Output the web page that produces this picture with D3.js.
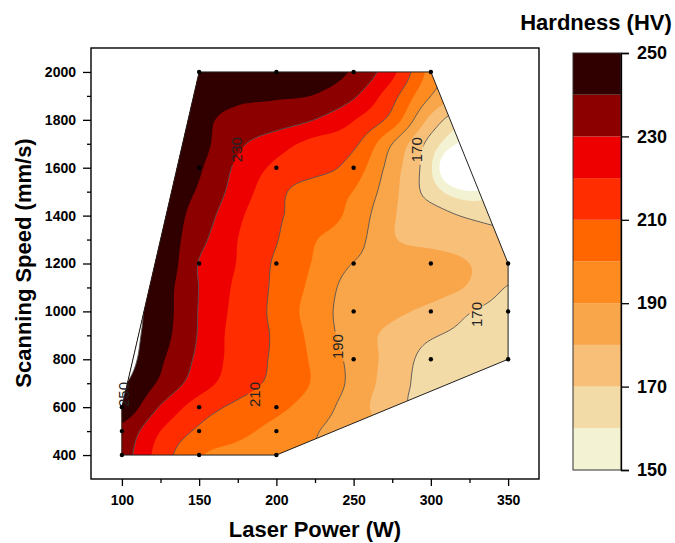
<!DOCTYPE html>
<html lang="en">
<head>
<meta charset="UTF-8" />
<title>Hardness contour map</title>
<script src="https://cdn.jsdelivr.net/npm/d3@7"></script>
<style>
	body { margin: 0; background: #fff; }
	text { font-family: "Liberation Sans", Arial, sans-serif; }
</style>
</head>
<body>
<script>
var w = 675;
var h = 543;

// hardness on a regular grid (rows follow speeds, columns follow powers)
var powers = [100, 125, 150, 175, 200, 225, 250, 275, 300, 325, 350];
var speeds = [400, 500, 600, 700, 800, 900, 1000, 1100, 1200, 1300, 1400, 1500, 1600, 1700, 1800, 1900, 2000];
var hardness = [
	[234, 215.5, 201, 197, 193, 190, 185, 180, 172, 166, 164],
	[237, 220, 208.2, 202.7, 196.8, 190.7, 185, 180, 172, 166, 164],
	[247, 229.1, 215.1, 207.8, 202.4, 195, 184.9, 173.6, 167, 164, 163],
	[251, 238.3, 224.7, 214.6, 207.3, 198.7, 187.3, 174.9, 166, 164, 163],
	[254, 241.5, 227.8, 216.1, 208.2, 198.1, 187, 176.3, 166.5, 164.5, 163.5],
	[254, 244, 229.2, 216, 208.5, 196.5, 185, 177.5, 171, 167.5, 165],
	[254, 245, 229.5, 217, 207.5, 195, 185.5, 182, 177.5, 170.5, 166],
	[252, 245, 229.8, 218, 208, 197, 186, 185, 184, 179, 169.5],
	[252, 248, 229.5, 219.5, 208.5, 199, 189.7, 186, 185, 180, 176],
	[252, 247, 233, 220, 210.5, 200.5, 194, 181, 177, 175, 173],
	[252, 246, 236, 222, 211.5, 205, 197, 181, 175, 168.5, 166],
	[252, 245, 239, 225.5, 213, 204, 199.7, 183, 165.5, 151, 158],
	[252, 245, 241, 228, 218, 214, 205.5, 185, 161, 108, 115],
	[252, 248, 243, 232, 224, 217, 212, 190, 166, 144, 138],
	[252, 250, 242, 238, 235, 229.8, 220.5, 206, 177, 160, 160],
	[252, 250, 243, 241.5, 241, 239.5, 231.3, 213.5, 190, 175, 168],
	[252, 250, 247, 248, 247, 245, 238.5, 222.5, 196.5, 180, 170]
];

// measured samples (black dots)
var samplePower = [100, 150, 200, 100, 150, 200, 100, 150, 200, 250, 300, 350, 250, 300, 350,
	150, 200, 250, 300, 350, 150, 200, 250, 150, 200, 250, 300];
var sampleSpeed = [400, 400, 400, 500, 500, 500, 600, 600, 600, 800, 800, 800, 1000, 1000, 1000,
	1200, 1200, 1200, 1200, 1200, 1600, 1600, 1600, 2000, 2000, 2000, 2000];

var levels = [150, 160, 170, 180, 190, 200, 210, 220, 230, 240, 250];
var bandColors = ["#f3f3d4", "#f3dba8", "#f7bf78", "#f9a54a", "#fd8b1f",
	"#ff6600", "#ff2d00", "#ee0000", "#8c0000", "#300000"];
var lineLevels = [170, 190, 210, 230, 250];
var labelText = ["230", "210", "190", "170", "170", "250"];
var labelPower = [174, 186, 239.5, 290.7, 329.5, 101.4];
var labelSpeed = [1675, 653, 853, 1675, 987, 653];

var xTicks = [100, 150, 200, 250, 300, 350];
var xMinor = [125, 175, 225, 275, 325];
var yTicks = [400, 600, 800, 1000, 1200, 1400, 1600, 1800, 2000];
var yMinor = [500, 700, 900, 1100, 1300, 1500, 1700, 1900];
var barTicks = [150, 170, 190, 210, 230, 250];

var x = d3.scaleLinear().domain([80, 370]).range([91, 539]);
var y = d3.scaleLinear().domain([300, 2100]).range([479, 48]);

var svg = d3.select("body").append("svg")
	.attr("width", w)
	.attr("height", h);

// Catmull-Rom interpolation of the read grid
function cubic(a, b, c, d, t) {
	return b + 0.5 * t * (c - a + t * (2 * a - 5 * b + 4 * c - d + t * (3 * (b - c) + d - a)));
}
function grid(i, j) {
	i = Math.max(0, Math.min(powers.length - 1, i));
	j = Math.max(0, Math.min(speeds.length - 1, j));
	return hardness[j][i];
}
function field(p, s) {
	var gx = (p - powers[0]) / (powers[1] - powers[0]);
	var gy = (s - speeds[0]) / (speeds[1] - speeds[0]);
	gx = Math.max(0, Math.min(powers.length - 1.0001, gx));
	gy = Math.max(0, Math.min(speeds.length - 1.0001, gy));
	var ix = Math.floor(gx), iy = Math.floor(gy);
	var tx = gx - ix, ty = gy - iy;
	var col = [];
	for (var m = -1; m <= 2; m++) {
		col.push(cubic(grid(ix - 1, iy + m), grid(ix, iy + m), grid(ix + 1, iy + m), grid(ix + 2, iy + m), tx));
	}
	return cubic(col[0], col[1], col[2], col[3], ty);
}

// fine sampling in pixel space
var gx0 = Math.floor(x(95)), gx1 = Math.ceil(x(355));
var gy0 = Math.floor(y(2050)), gy1 = Math.ceil(y(350));
var nx = gx1 - gx0 + 1, ny = gy1 - gy0 + 1;
var values = new Array(nx * ny);
for (var j = 0; j < ny; j++) {
	for (var i = 0; i < nx; i++) {
		values[j * nx + i] = field(x.invert(gx0 + i), y.invert(gy0 + j));
	}
}

var toPixels = d3.geoPath(d3.geoTransform({
	point: function (cx, cy) {
		this.stream.point(gx0 + cx - 0.5, gy0 + cy - 0.5);
	}
}));

var contours = d3.contours().size([nx, ny]).thresholds(levels)(values);

// convex hull of the samples
var hull = d3.polygonHull(samplePower.map(function (p, i) {
	return [x(p), y(sampleSpeed[i])];
}));

var defs = svg.append("defs");
defs.append("clipPath").attr("id", "hullClip")
	.append("path").attr("d", "M" + hull.join("L") + "Z");

var mask = defs.append("mask").attr("id", "labelMask")
	.attr("maskUnits", "userSpaceOnUse")
	.attr("x", 0).attr("y", 0).attr("width", w).attr("height", h);
mask.append("rect").attr("width", w).attr("height", h).attr("fill", "white");
mask.selectAll("rect.gap")
	.data(labelText)
	.enter()
	.append("rect")
	.attr("class", "gap")
	.attr("x", function (d, i) { return x(labelPower[i]) - 7; })
	.attr("y", function (d, i) { return y(labelSpeed[i]) - 15; })
	.attr("width", 14)
	.attr("height", 30)
	.attr("fill", "black");

var map = svg.append("g").attr("clip-path", "url(#hullClip)");

map.selectAll("path.band")
	.data(contours)
	.enter()
	.append("path")
	.attr("class", "band")
	.attr("d", toPixels)
	.attr("fill", function (d, i) {
		return i < bandColors.length ? bandColors[i] : "#ffffff";
	});

map.append("g")
	.attr("mask", "url(#labelMask)")
	.selectAll("path.line")
	.data(contours.filter(function (d) { return lineLevels.indexOf(d.value) >= 0; }))
	.enter()
	.append("path")
	.attr("class", "line")
	.attr("d", toPixels)
	.attr("fill", "none")
	.attr("stroke", "#555")
	.attr("stroke-width", 0.9);

svg.append("path")
	.attr("d", "M" + hull.join("L") + "Z")
	.attr("fill", "none")
	.attr("stroke", "#222")
	.attr("stroke-width", 1);

svg.selectAll("text.clabel")
	.data(labelText)
	.enter()
	.append("text")
	.attr("class", "clabel")
	.attr("transform", function (d, i) {
		return "translate(" + x(labelPower[i]) + "," + y(labelSpeed[i]) + ") rotate(-90)";
	})
	.attr("text-anchor", "middle")
	.attr("dy", "0.36em")
	.attr("font-size", "15px")
	.attr("fill", "#222")
	.text(function (d) { return d; });

svg.selectAll("circle")
	.data(samplePower)
	.enter()
	.append("circle")
	.attr("cx", function (d) { return x(d); })
	.attr("cy", function (d, i) { return y(sampleSpeed[i]); })
	.attr("r", 2.2)
	.attr("fill", "#000");

// axes
var xAxis = svg.append("g")
	.attr("transform", "translate(0,479)")
	.call(d3.axisBottom(x).tickValues(xTicks).tickSize(7).tickPadding(9).tickFormat(d3.format("d")));
svg.append("g")
	.attr("transform", "translate(0,479)")
	.call(d3.axisBottom(x).tickValues(xMinor).tickSize(4).tickFormat(""));
var yAxis = svg.append("g")
	.attr("transform", "translate(91,0)")
	.call(d3.axisLeft(y).tickValues(yTicks).tickSize(8).tickPadding(7).tickFormat(d3.format("d")));
svg.append("g")
	.attr("transform", "translate(91,0)")
	.call(d3.axisLeft(y).tickValues(yMinor).tickSize(4).tickFormat(""));

svg.selectAll(".domain").remove();
svg.selectAll(".tick line").attr("stroke", "#000").attr("stroke-width", 1.3);
xAxis.selectAll("text").attr("font-size", "14px").attr("font-weight", "bold")
	.attr("font-family", "'Liberation Sans', Arial, sans-serif").attr("fill", "#000");
yAxis.selectAll("text").attr("font-size", "14px").attr("font-weight", "bold")
	.attr("font-family", "'Liberation Sans', Arial, sans-serif").attr("fill", "#000");

svg.append("rect")
	.attr("x", 91).attr("y", 48)
	.attr("width", 448).attr("height", 431)
	.attr("fill", "none")
	.attr("stroke", "#000")
	.attr("stroke-width", 1.4);

svg.append("text")
	.attr("x", 315).attr("y", 537)
	.attr("text-anchor", "middle")
	.attr("font-size", "22px").attr("font-weight", "bold")
	.text("Laser Power (W)");

svg.append("text")
	.attr("transform", "translate(31,263) rotate(-90)")
	.attr("text-anchor", "middle")
	.attr("font-size", "22px").attr("font-weight", "bold")
	.text("Scanning Speed (mm/s)");

// colour bar
var cb = d3.scaleLinear().domain([150, 250]).range([470, 53]);
svg.selectAll("rect.bin")
	.data(bandColors)
	.enter()
	.append("rect")
	.attr("class", "bin")
	.attr("x", 573)
	.attr("y", function (d, i) { return cb(levels[i + 1]); })
	.attr("width", 48)
	.attr("height", function (d, i) { return cb(levels[i]) - cb(levels[i + 1]); })
	.attr("fill", function (d) { return d; });

svg.append("rect")
	.attr("x", 573).attr("y", 53)
	.attr("width", 48).attr("height", 417)
	.attr("fill", "none")
	.attr("stroke", "#333")
	.attr("stroke-width", 1);

var cbAxis = svg.append("g")
	.attr("transform", "translate(621,0)")
	.call(d3.axisRight(cb).tickValues(barTicks).tickSize(8).tickPadding(8));
cbAxis.select(".domain").attr("stroke", "#000").attr("stroke-width", 1.3);
cbAxis.selectAll(".tick line").attr("stroke", "#000").attr("stroke-width", 1.3);
cbAxis.selectAll("text").attr("font-size", "18px").attr("font-weight", "bold")
	.attr("font-family", "'Liberation Sans', Arial, sans-serif").attr("fill", "#000");

svg.append("text")
	.attr("x", 596).attr("y", 30)
	.attr("text-anchor", "middle")
	.attr("font-size", "22px").attr("font-weight", "bold")
	.text("Hardness (HV)");
</script>
</body>
</html>
